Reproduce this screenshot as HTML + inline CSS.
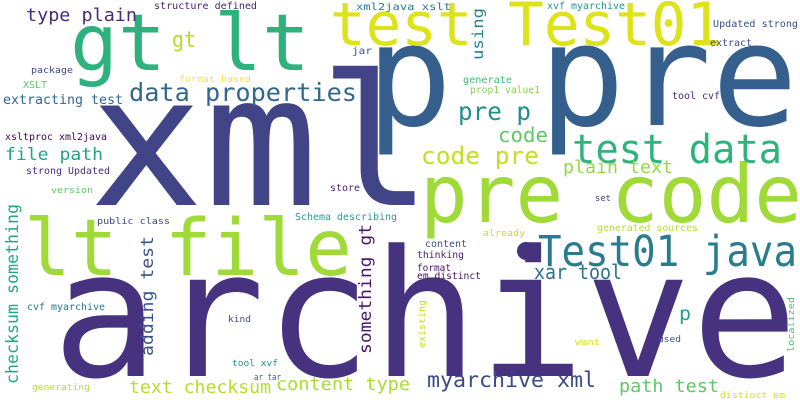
<!DOCTYPE html>
<html><head><meta charset="utf-8"><style>
html,body{margin:0;padding:0;background:#fff;}
svg{display:block;}
text{font-family:"DejaVu Sans Mono","Liberation Mono",monospace;}
</style></head><body>
<svg width="800" height="400" viewBox="0 0 800 400">
<rect width="800" height="400" fill="#fff"/>
<g>
<text x="52" y="376" font-size="176" fill="#46327e" textLength="746" lengthAdjust="spacingAndGlyphs">archive</text>
<text x="89" y="205" font-size="182" fill="#414487" textLength="344" lengthAdjust="spacingAndGlyphs">xml</text>
<text x="366" y="125" font-size="142" fill="#355f8d" textLength="432" lengthAdjust="spacingAndGlyphs">p pre</text>
<text x="420" y="222" font-size="80" fill="#a0da39" textLength="382" lengthAdjust="spacingAndGlyphs">pre code</text>
<text x="24" y="275" font-size="78" fill="#a0da39" textLength="328" lengthAdjust="spacingAndGlyphs">lt file</text>
<text x="70" y="70" font-size="78" fill="#2db27d" textLength="240" lengthAdjust="spacingAndGlyphs">gt lt</text>
<text x="330" y="45" font-size="60" fill="#dde318" textLength="392" lengthAdjust="spacingAndGlyphs">test Test01</text>
<circle cx="526" cy="251" r="9" fill="#46327e"/>
<text x="538" y="266" font-size="43" fill="#287c8e" textLength="259" lengthAdjust="spacingAndGlyphs">Test01 java</text>
<text x="572" y="163" font-size="40" fill="#2eb37c" textLength="210" lengthAdjust="spacingAndGlyphs">test data</text>
<text x="129" y="101" font-size="25" fill="#31688e" textLength="228" lengthAdjust="spacingAndGlyphs">data properties</text>
<text x="26" y="21" font-size="18" fill="#472c7a" textLength="111" lengthAdjust="spacingAndGlyphs">type plain</text>
<text x="172" y="47" font-size="22" fill="#b5de2b" textLength="24" lengthAdjust="spacingAndGlyphs">gt</text>
<text x="154" y="9" font-size="10" fill="#482475" textLength="103" lengthAdjust="spacingAndGlyphs">structure defined</text>
<text x="356" y="10" font-size="10" fill="#2a788e" textLength="95" lengthAdjust="spacingAndGlyphs">xml2java xslt</text>
<text x="547" y="9" font-size="10" fill="#1f9a8a" textLength="78" lengthAdjust="spacingAndGlyphs">xvf myarchive</text>
<text x="713" y="27" font-size="10" fill="#3b528b" textLength="85" lengthAdjust="spacingAndGlyphs">Updated strong</text>
<text x="710" y="46" font-size="10" fill="#3e4a89" textLength="42" lengthAdjust="spacingAndGlyphs">extract</text>
<text transform="translate(483,60) rotate(-90)" font-size="15" fill="#25858e" textLength="52" lengthAdjust="spacingAndGlyphs">using</text>
<text x="352" y="54" font-size="10" fill="#39568c" textLength="40" lengthAdjust="spacingAndGlyphs">jar ar</text>
<text x="31" y="73" font-size="9" fill="#404688" textLength="42" lengthAdjust="spacingAndGlyphs">package</text>
<text x="179" y="82" font-size="9" fill="#fde725" textLength="72" lengthAdjust="spacingAndGlyphs">format based</text>
<text x="23" y="88" font-size="10" fill="#5ec962" textLength="24" lengthAdjust="spacingAndGlyphs">XSLT</text>
<text x="3" y="104" font-size="13" fill="#31688e" textLength="120" lengthAdjust="spacingAndGlyphs">extracting test</text>
<text x="5" y="140" font-size="10" fill="#440154" textLength="102" lengthAdjust="spacingAndGlyphs">xsltproc xml2java</text>
<text x="5" y="160" font-size="17" fill="#20a386" textLength="98" lengthAdjust="spacingAndGlyphs">file path</text>
<text x="26" y="174" font-size="10" fill="#472c7a" textLength="84" lengthAdjust="spacingAndGlyphs">strong Updated</text>
<text x="51" y="193" font-size="9" fill="#5ec962" textLength="42" lengthAdjust="spacingAndGlyphs">version</text>
<text x="330" y="191" font-size="10" fill="#481f70" textLength="30" lengthAdjust="spacingAndGlyphs">store</text>
<text x="458" y="120" font-size="25" fill="#1f918d" textLength="73" lengthAdjust="spacingAndGlyphs">pre p</text>
<text x="498" y="142" font-size="20" fill="#5ec962" textLength="50" lengthAdjust="spacingAndGlyphs">code</text>
<text x="421" y="164" font-size="24" fill="#c2df23" textLength="118" lengthAdjust="spacingAndGlyphs">code pre</text>
<text x="563" y="173" font-size="18" fill="#95d840" textLength="110" lengthAdjust="spacingAndGlyphs">plain text</text>
<text x="463" y="83" font-size="10" fill="#3bbb75" textLength="49" lengthAdjust="spacingAndGlyphs">generate</text>
<text x="470" y="93" font-size="10" fill="#84d44b" textLength="70" lengthAdjust="spacingAndGlyphs">prop1 value1</text>
<text x="672" y="99" font-size="10" fill="#482878" textLength="48" lengthAdjust="spacingAndGlyphs">tool cvf</text>
<text x="595" y="201" font-size="9" fill="#433e85" textLength="16" lengthAdjust="spacingAndGlyphs">set</text>
<text transform="translate(18,384) rotate(-90)" font-size="17" fill="#22a884" textLength="180" lengthAdjust="spacingAndGlyphs">checksum something</text>
<text x="97" y="224" font-size="9" fill="#414487" textLength="73" lengthAdjust="spacingAndGlyphs">public class</text>
<text x="295" y="220" font-size="10" fill="#2a9d8a" textLength="102" lengthAdjust="spacingAndGlyphs">Schema describing</text>
<text transform="translate(153,356) rotate(-90)" font-size="17" fill="#3b528b" textLength="120" lengthAdjust="spacingAndGlyphs">adding test</text>
<text transform="translate(371,354) rotate(-90)" font-size="17" fill="#481668" textLength="130" lengthAdjust="spacingAndGlyphs">something gt</text>
<text x="27" y="310" font-size="10" fill="#2c728e" textLength="78" lengthAdjust="spacingAndGlyphs">cvf myarchive</text>
<text x="228" y="322" font-size="9" fill="#3e4a89" textLength="23" lengthAdjust="spacingAndGlyphs">kind</text>
<text x="232" y="366" font-size="9" fill="#21918c" textLength="46" lengthAdjust="spacingAndGlyphs">tool xvf</text>
<text x="254" y="380" font-size="9" fill="#33638d" textLength="27" lengthAdjust="spacingAndGlyphs">ar tar</text>
<text x="32" y="390" font-size="9" fill="#b5de2b" textLength="58" lengthAdjust="spacingAndGlyphs">generating</text>
<text x="129" y="393" font-size="18" fill="#b5de2b" textLength="142" lengthAdjust="spacingAndGlyphs">text checksum</text>
<text x="276" y="390" font-size="18" fill="#a8db34" textLength="134" lengthAdjust="spacingAndGlyphs">content type</text>
<text x="483" y="236" font-size="9" fill="#c8e020" textLength="42" lengthAdjust="spacingAndGlyphs">already</text>
<text x="597" y="231" font-size="10" fill="#b5de2b" textLength="101" lengthAdjust="spacingAndGlyphs">generated sources</text>
<text x="425" y="247" font-size="10" fill="#3b528b" textLength="42" lengthAdjust="spacingAndGlyphs">content</text>
<text x="417" y="258" font-size="10" fill="#482475" textLength="47" lengthAdjust="spacingAndGlyphs">thinking</text>
<text x="417" y="271" font-size="10" fill="#481668" textLength="34" lengthAdjust="spacingAndGlyphs">format</text>
<text x="417" y="279" font-size="10" fill="#471063" textLength="64" lengthAdjust="spacingAndGlyphs">em distinct</text>
<text x="534" y="279" font-size="20" fill="#2c728e" textLength="88" lengthAdjust="spacingAndGlyphs">xar tool</text>
<text transform="translate(425,348) rotate(-90)" font-size="9" fill="#c2df23" textLength="48" lengthAdjust="spacingAndGlyphs">existing</text>
<text x="679" y="320" font-size="19" fill="#20a386" textLength="12" lengthAdjust="spacingAndGlyphs">p</text>
<text x="575" y="345" font-size="9" fill="#d8e219" textLength="25" lengthAdjust="spacingAndGlyphs">want</text>
<text x="658" y="342" font-size="9" fill="#3b528b" textLength="23" lengthAdjust="spacingAndGlyphs">used</text>
<text transform="translate(794,352) rotate(-90)" font-size="9" fill="#4ac16d" textLength="55" lengthAdjust="spacingAndGlyphs">localized</text>
<text x="427" y="387" font-size="21" fill="#3e4a89" textLength="169" lengthAdjust="spacingAndGlyphs">myarchive xml</text>
<text x="619" y="392" font-size="18" fill="#5ec962" textLength="100" lengthAdjust="spacingAndGlyphs">path test</text>
<text x="720" y="398" font-size="9" fill="#d0e11c" textLength="65" lengthAdjust="spacingAndGlyphs">distinct em</text>
</g>
</svg>
</body></html>
